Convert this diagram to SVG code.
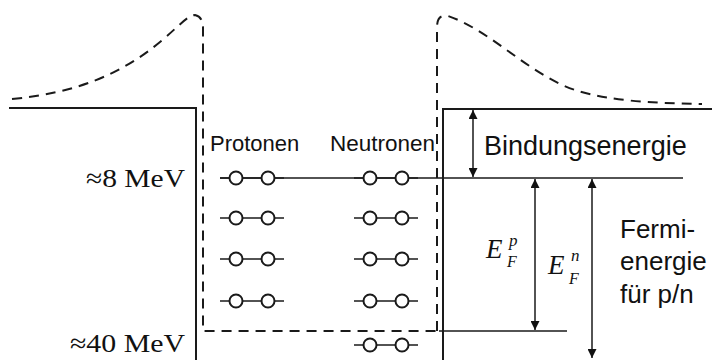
<svg xmlns="http://www.w3.org/2000/svg" width="712" height="360" viewBox="0 0 712 360">
<defs>
<style>
.solid{stroke:#1a1a1a;stroke-width:2;fill:none}
.thin{stroke:#1a1a1a;stroke-width:1.5;fill:none}
.dash{stroke:#1a1a1a;stroke-width:2;fill:none;stroke-dasharray:10,7}
.circ{stroke:#1a1a1a;stroke-width:2;fill:#fff}
.sans{font-family:"Liberation Sans",Arial,sans-serif;fill:#111}
.serif{font-family:"Liberation Serif","Times New Roman",serif;fill:#111}
</style>
<marker id="ah" viewBox="0 0 10 10" refX="10" refY="5" markerWidth="9" markerHeight="9" markerUnits="userSpaceOnUse" orient="auto-start-reverse">
<path d="M0,0 L10,5 L0,10 z" fill="#111"/>
</marker>
<g id="pair">
<line class="thin" x1="-16" y1="0" x2="48" y2="0"/>
<circle class="circ" cx="0" cy="0" r="6.5"/>
<circle class="circ" cx="32" cy="0" r="6.5"/>
</g>
</defs>
<rect width="712" height="360" fill="#fff"/>

<g id="potential">
<polyline class="solid" points="9,108 196,108 196,360"/>
<polyline class="solid" points="712,109 443,109 443,360"/>
</g>

<g id="coulomb">
<path class="dash" d="M12,99 C75,93 120,75 160,42 C178,27 188,15 195,15 C200,16 203,20 203,28 L203,331 L440,331"/>
<path class="dash" d="M437,331 L437,28 C437,18 440,15 448,16 C490,30 530,75 575,90 C610,101 650,103 702,104"/>
</g>

<g id="levels">
<line class="thin" x1="220" y1="178" x2="683" y2="178"/>
<line class="thin" x1="439" y1="331" x2="567" y2="331"/>
</g>

<g id="protons">
<use href="#pair" x="236" y="178"/>
<use href="#pair" x="236" y="218"/>
<use href="#pair" x="236" y="259"/>
<use href="#pair" x="236" y="301"/>
</g>
<g id="neutrons">
<use href="#pair" x="370" y="178"/>
<use href="#pair" x="370" y="218"/>
<use href="#pair" x="370" y="259"/>
<use href="#pair" x="370" y="301"/>
<use href="#pair" x="370" y="345"/>
</g>

<g id="connectors">
<line class="thin" x1="473" y1="110" x2="473" y2="177" marker-start="url(#ah)" marker-end="url(#ah)"/>
<line class="thin" x1="535" y1="179" x2="535" y2="330" marker-start="url(#ah)" marker-end="url(#ah)"/>
<line class="thin" x1="592" y1="179" x2="592" y2="358" marker-start="url(#ah)" marker-end="url(#ah)"/>
</g>

<g id="labels">
<text class="serif" x="86" y="187" font-size="26" textLength="99" lengthAdjust="spacingAndGlyphs">≈8 MeV</text>
<text class="serif" x="70" y="352" font-size="26" textLength="115" lengthAdjust="spacingAndGlyphs">≈40 MeV</text>
<text class="sans" x="210" y="151" font-size="22">Protonen</text>
<text class="sans" x="330" y="151" font-size="22.5">Neutronen</text>
<text class="sans" x="484" y="155" font-size="27">Bindungsenergie</text>
<text class="sans" x="620" y="238" font-size="26">Fermi-</text>
<text class="sans" x="620" y="270" font-size="26">energie</text>
<text class="sans" x="620" y="303" font-size="26">für p/n</text>
<text class="serif" x="486" y="258" font-size="27" font-style="italic">E</text>
<text class="serif" x="509" y="246" font-size="17" font-style="italic">p</text>
<text class="serif" x="507" y="267" font-size="16" font-style="italic">F</text>
<text class="serif" x="548" y="274" font-size="27" font-style="italic">E</text>
<text class="serif" x="571" y="261" font-size="17" font-style="italic">n</text>
<text class="serif" x="569" y="284" font-size="16" font-style="italic">F</text>
</g>
</svg>
